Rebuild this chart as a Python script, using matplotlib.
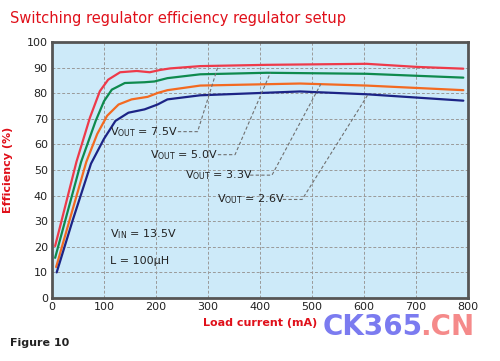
import matplotlib
matplotlib.use('Agg')
import matplotlib.pyplot as plt

# Load current (mA) / efficiency (%) pairs, one set per output voltage
x_75 = [6, 20, 47, 73, 92, 108, 131, 163, 188, 208, 227, 285, 413, 605, 701, 791]
y_75 = [20.3, 31.5, 53.2, 70.5, 80.8, 85.3, 88.2, 88.7, 88.2, 89.1, 89.7, 90.6, 91.1, 91.5, 90.3, 89.6]

x_50 = [6, 30, 56, 84, 100, 115, 140, 178, 197, 222, 285, 413, 605, 791]
y_50 = [15.7, 33.7, 53.2, 69.2, 76.9, 81.4, 84.0, 84.3, 84.6, 85.9, 87.4, 88.0, 87.6, 86.1]

x_33 = [8, 36, 66, 87, 106, 128, 153, 184, 203, 222, 285, 477, 605, 791]
y_33 = [12.1, 32.0, 53.2, 64.1, 71.2, 75.6, 77.6, 78.6, 80.1, 81.2, 83.0, 83.8, 83.0, 81.2]

x_26 = [9, 40, 75, 100, 122, 147, 178, 203, 222, 285, 477, 605, 791]
y_26 = [10.0, 30.5, 52.5, 62.2, 69.2, 72.4, 73.7, 75.6, 77.6, 79.2, 80.7, 79.6, 77.1]

series = [
    (x_75, y_75, '#ee3a4a'),
    (x_50, y_50, '#0e8a4e'),
    (x_33, y_33, '#f36a21'),
    (x_26, y_26, '#1c2486'),
]

# label text, text start (x, y), leader: dash start x, bend x, curve point (x, y)
labels = [
    ('V$_{\\mathrm{OUT}}$ = 7.5V', (112, 65), 242, 280, (320, 91.0)),
    ('V$_{\\mathrm{OUT}}$ = 5.0V', (188, 56), 319, 352, (420, 88.0)),
    ('V$_{\\mathrm{OUT}}$ = 3.3V', (256, 48), 381, 423, (517, 83.6)),
    ('V$_{\\mathrm{OUT}}$ = 2.6V', (317, 38.5), 444, 481, (608, 79.6)),
]

fig = plt.figure(figsize=(5, 3.61), dpi=100)
ax = fig.add_axes([0.104, 0.1745, 0.832, 0.709])
ax.set_facecolor('#cdeaf9')

for xs, ys, col in series:
    ax.plot(xs, ys, color=col, lw=1.6, solid_joinstyle='round', solid_capstyle='round')

for txt, (tx, ty), dx, bx, (cx, cy) in labels:
    ax.text(tx, ty, txt, fontsize=8, va='center', ha='left', color='#222222')
    ax.plot([dx, bx, cx], [ty, ty, cy], ls=(0, (3, 2)), color='#707070', lw=0.8)

ax.text(112, 25, 'V$_{\\mathrm{IN}}$ = 13.5V', fontsize=8, va='center', color='#222222')
ax.text(112, 14.5, 'L = 100\u03bcH', fontsize=8, va='center', color='#222222')

ax.set_xlim(0, 800)
ax.set_ylim(0, 100)
ax.set_xticks(range(0, 801, 100))
ax.set_yticks(range(0, 101, 10))
ax.tick_params(length=0, labelsize=8, colors='#222222', pad=3)
ax.grid(True, ls=(0, (3, 2)), color='#9a9a9a', lw=0.7)
ax.set_axisbelow(True)
for s in ax.spines.values():
    s.set_color('#555555')
    s.set_linewidth(2)

ax.set_xlabel('Load current (mA)', color='#e0101a', fontsize=8, fontweight='bold', labelpad=4)
ax.set_ylabel('Efficiency (%)', color='#e0101a', fontsize=8, fontweight='bold', labelpad=10)

fig.text(0.02, 0.95, 'Switching regulator efficiency regulator setup', color='#e0101a',
         fontsize=10.5, va='center', ha='left')
fig.text(0.02, 0.05, 'Figure 10', fontsize=8, fontweight='bold', va='center', color='#222222')
fig.text(0.646, 0.094, 'CK365', fontsize=20, fontweight='bold', color='#7b7bf0', va='center')
fig.text(0.84, 0.094, '.CN', fontsize=20, fontweight='bold', color='#f58a8a', va='center')

fig.savefig('out.png', dpi=100)
